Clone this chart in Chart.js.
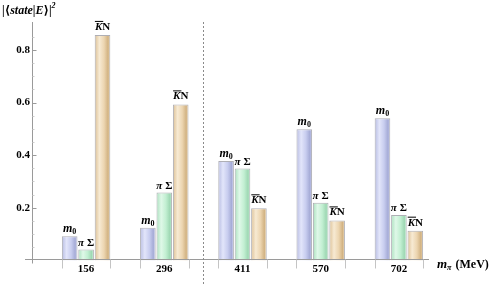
<!DOCTYPE html>
<html>
<head>
<meta charset="utf-8">
<script src="https://cdn.jsdelivr.net/npm/chart.js@4/dist/chart.umd.min.js"></script>
<style>
  html, body { margin: 0; padding: 0; background: #fff; }
  #wrap { width: 498px; height: 284px; position: relative; }
</style>
</head>
<body>
<div id="wrap"><canvas id="chart"></canvas></div>
<script>
// valores
const pionMasses = ['156', '296', '411', '570', '702'];
const seriesNames = ['m0', 'piSigma', 'KbarN'];
const m0Values = [0.092, 0.124, 0.378, 0.498, 0.540];
const piSigmaValues = [0.041, 0.258, 0.349, 0.219, 0.173];
const kbarNValues = [0.857, 0.593, 0.198, 0.152, 0.113];
const yTicks = [0.2, 0.4, 0.6, 0.8];

const SERIF = '"Liberation Serif", "DejaVu Serif", serif';
const AXIS_GRAY = '#9a9a9a';

// paletas (borda, claro, base, escuro)
const palettes = [
  ['#b7bce2', '#e2e5fa', '#c8cdef', '#a6acd7'],
  ['#a9e0bd', '#dff8e8', '#c2efd2', '#9fd8b4'],
  ['#dcc095', '#f7ead3', '#ecd5b0', '#d2b383']
];

// desenha pedaços de texto com fontes diferentes em sequência
function drawRuns(ctx, runs, x, y, align) {
  let total = 0;
  runs.forEach(r => { ctx.font = r.font; r.w = ctx.measureText(r.t).width; total += r.w + (r.gap || 0); });
  let cx = align === 'center' ? x - total / 2 : x;
  ctx.textBaseline = 'alphabetic';
  ctx.textAlign = 'left';
  runs.forEach(r => {
    ctx.font = r.font;
    ctx.fillText(r.t, cx, y + (r.dy || 0));
    if (r.over) {
      ctx.fillRect(cx, y - 9, r.w + 1, 1);
    }
    cx += r.w + (r.gap || 0);
  });
}

const barLabelRuns = {
  m0: () => [
    { t: 'm', font: `bold italic 12px ${SERIF}` },
    { t: '0', font: `bold 8px ${SERIF}`, dy: 2 }
  ],
  piSigma: () => [
    { t: 'π', font: `bold italic 11px ${SERIF}`, gap: 3 },
    { t: 'Σ', font: `bold 11px ${SERIF}` }
  ],
  KbarN: () => [
    { t: 'K', font: `bold italic 11px ${SERIF}`, over: true },
    { t: 'N', font: `bold 11px ${SERIF}` }
  ]
};

const decorPlugin = {
  id: 'decor',
  beforeDatasetsDraw(chart) {
    const ctx = chart.ctx;
    chart.data.datasets.forEach((ds, di) => {
      const p = palettes[di];
      chart.getDatasetMeta(di).data.forEach(bar => {
        const g = ctx.createLinearGradient(bar.x - bar.width / 2, 0, bar.x + bar.width / 2, 0);
        g.addColorStop(0, p[0]);
        g.addColorStop(0.3, p[1]);
        g.addColorStop(0.6, p[2]);
        g.addColorStop(0.85, p[3]);
        g.addColorStop(1, p[2]);
        bar.options.backgroundColor = g;
      });
    });
  },
  afterDatasetsDraw(chart) {
    const ctx = chart.ctx;
    const x = chart.scales.x, y = chart.scales.y;
    const axisX = 32.5;
    const baseY = Math.round(y.getPixelForValue(0)) - 0.5;
    ctx.save();

    // eixo y
    ctx.strokeStyle = AXIS_GRAY;
    ctx.lineWidth = 1;
    ctx.beginPath();
    ctx.moveTo(axisX, 22);
    ctx.lineTo(axisX, baseY + 4);
    ctx.stroke();
    for (let v = 0.05; v < 0.88; v += 0.05) {
      const py = Math.round(y.getPixelForValue(v)) + 0.5;
      const major = yTicks.some(t => Math.abs(t - v) < 1e-6);
      ctx.strokeStyle = major ? AXIS_GRAY : '#cfcfcf';
      ctx.beginPath();
      ctx.moveTo(axisX, py);
      ctx.lineTo(axisX + (major ? 4 : 2), py);
      ctx.stroke();
    }

    // eixo x
    ctx.strokeStyle = AXIS_GRAY;
    ctx.beginPath();
    ctx.moveTo(25, baseY);
    ctx.lineTo(429, baseY);
    ctx.stroke();

    // marcas nas bordas de cada grupo
    ctx.strokeStyle = '#c4c4c4';
    const meta0 = chart.getDatasetMeta(0).data;
    const meta2 = chart.getDatasetMeta(2).data;
    pionMasses.forEach((_, i) => {
      [meta0[i].x - meta0[i].width / 2, meta2[i].x + meta2[i].width / 2].forEach(ex => {
        const px = Math.round(ex) + 0.5;
        ctx.beginPath();
        ctx.moveTo(px, baseY);
        ctx.lineTo(px, baseY + 9);
        ctx.stroke();
      });
    });

    // linha tracejada entre 296 e 411
    const dx = Math.round((x.getPixelForValue(1) + x.getPixelForValue(2)) / 2) + 0.5;
    ctx.strokeStyle = '#8a8a8a';
    ctx.setLineDash([2, 2]);
    ctx.beginPath();
    ctx.moveTo(dx, 22);
    ctx.lineTo(dx, 284);
    ctx.stroke();
    ctx.setLineDash([]);

    // rótulos em cima das barras
    ctx.fillStyle = '#000';
    chart.data.datasets.forEach((ds, di) => {
      chart.getDatasetMeta(di).data.forEach(bar => {
        const lift = ds.label === 'KbarN' ? 5 : 4;
        drawRuns(ctx, barLabelRuns[ds.label](), bar.x, bar.y - lift, 'center');
      });
    });

    // título do eixo y
    drawRuns(ctx, [
      { t: '|⟨', font: `bold 12px ${SERIF}` },
      { t: 'state', font: `bold italic 12px ${SERIF}` },
      { t: '|', font: `bold 12px ${SERIF}` },
      { t: 'E', font: `bold italic 12px ${SERIF}` },
      { t: '⟩|', font: `bold 12px ${SERIF}` },
      { t: '2', font: `bold italic 8px ${SERIF}`, dy: -6 }
    ], 2, 14, 'left');

    // título do eixo x
    drawRuns(ctx, [
      { t: 'm', font: `bold italic 13px ${SERIF}` },
      { t: 'π', font: `bold italic 8px ${SERIF}`, dy: 2, gap: 4 },
      { t: '(MeV)', font: `bold 12px ${SERIF}` }
    ], 437, 268, 'left');

    ctx.restore();
  }
};

const datasets = [m0Values, piSigmaValues, kbarNValues].map((vals, i) => ({
  label: seriesNames[i],
  data: vals,
  backgroundColor: () => palettes[i][2],
  borderColor: 'rgba(110,110,120,0.55)',
  borderWidth: 1,
  borderSkipped: 'bottom',
  barPercentage: 0.95,
  categoryPercentage: 0.63
}));

new Chart(document.getElementById('chart'), {
  type: 'bar',
  data: { labels: pionMasses, datasets: datasets },
  plugins: [decorPlugin],
  options: {
    responsive: true,
    maintainAspectRatio: false,
    animation: false,
    devicePixelRatio: 1,
    layout: { padding: { left: 0, right: 60, top: 15, bottom: 0 } },
    plugins: {
      legend: { display: false },
      tooltip: { enabled: false }
    },
    scales: {
      x: {
        grid: { display: false, drawTicks: false },
        border: { display: false },
        ticks: {
          color: '#000',
          padding: 2,
          font: { family: SERIF, size: 11, weight: 'bold' }
        },
        afterFit: s => { s.height = 14; }
      },
      y: {
        min: 0,
        max: 0.9,
        grid: { display: false, drawTicks: false },
        border: { display: false },
        afterBuildTicks: s => { s.ticks = yTicks.map(v => ({ value: v })); },
        ticks: {
          color: '#000',
          padding: 17,
          font: { family: SERIF, size: 11, weight: 'bold' },
          callback: v => v.toFixed(1)
        },
        afterFit: s => { s.width = 47; }
      }
    }
  }
});
</script>
</body>
</html>
